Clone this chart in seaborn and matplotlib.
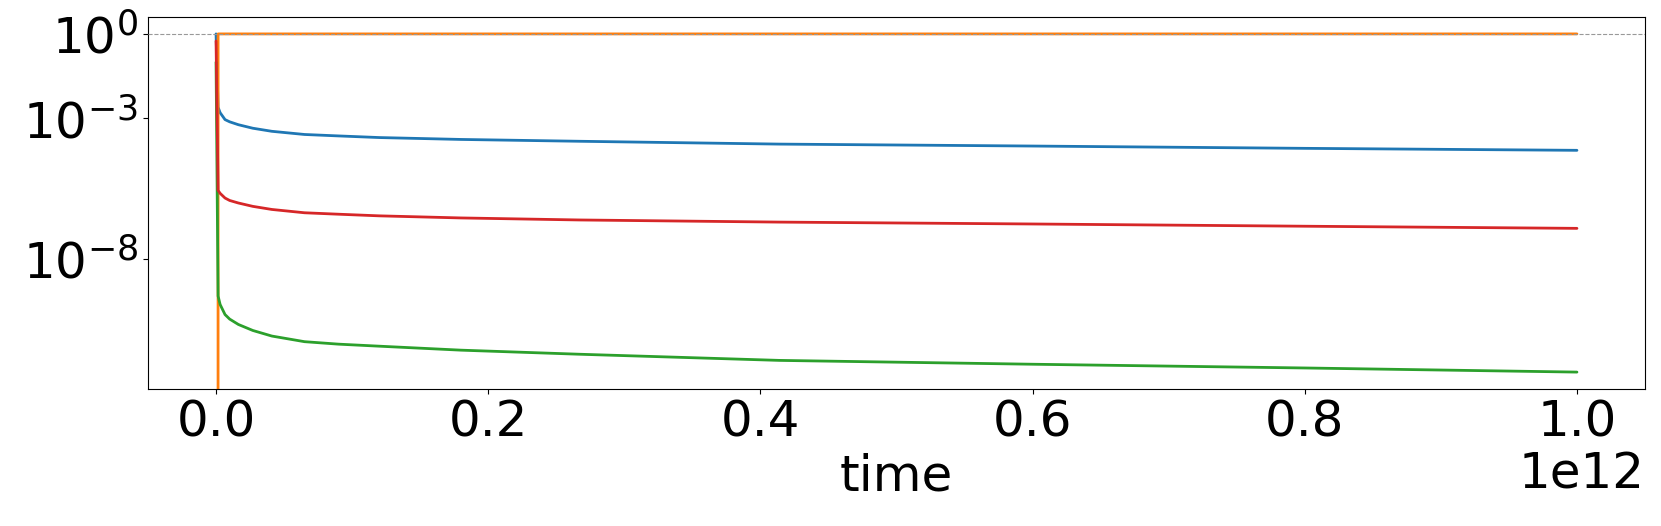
import matplotlib
matplotlib.use("Agg")
import matplotlib.pyplot as plt
import matplotlib.ticker as mticker
import numpy as np
import pandas as pd
import seaborn as sns

# time grid, in units of 1e12
time_e12 = [0.0, 0.0015, 0.003, 0.0066, 0.01, 0.0164, 0.027, 0.041, 0.065,
            0.09, 0.12, 0.18, 0.267, 0.414, 0.6, 0.8, 1.0]

# fractions of each species along the grid
frac_a = [1.0, 2.5e-3, 1.6e-3, 9.1e-4, 7.6e-4, 6.0e-4, 4.5e-4, 3.5e-4, 2.7e-4,
          2.4e-4, 2.1e-4, 1.8e-4, 1.55e-4, 1.23e-4, 1.05e-4, 8.7e-5, 7.4e-5]
frac_b = [0.0, 1.0, 1.0, 1.0, 1.0, 1.0, 1.0, 1.0, 1.0,
          1.0, 1.0, 1.0, 1.0, 1.0, 1.0, 1.0, 1.0]
frac_c = [0.1, 5.0e-10, 2.5e-10, 1.1e-10, 7.6e-11, 4.9e-11, 3.0e-11, 1.9e-11, 1.2e-11,
          9.8e-12, 8.3e-12, 6.0e-12, 4.3e-12, 2.6e-12, 1.9e-12, 1.4e-12, 1.0e-12]
frac_d = [0.56, 2.8e-6, 2.2e-6, 1.5e-6, 1.23e-6, 1.0e-6, 7.6e-7, 5.9e-7, 4.5e-7,
          4.0e-7, 3.5e-7, 2.95e-7, 2.5e-7, 2.1e-7, 1.8e-7, 1.5e-7, 1.26e-7]

species = ["A", "B", "C", "D"]
colors = ["#1f77b4", "#ff7f0e", "#2ca02c", "#d62728"]
y_ticks = [1.0, 1e-3, 1e-8]

sns.set_style("ticks", rc={
    "axes.edgecolor": "black",
    "xtick.color": "black",
    "ytick.color": "black",
    "text.color": "black",
    "axes.labelcolor": "black",
    "axes.linewidth": 1.0,
    "xtick.major.width": 0.8,
    "ytick.major.width": 0.8,
    "xtick.major.size": 5,
    "ytick.major.size": 5,
})
plt.rcParams["font.family"] = ["DejaVu Sans"]
plt.rcParams["font.size"] = 36
plt.rcParams["xtick.labelsize"] = 36
plt.rcParams["ytick.labelsize"] = 36
plt.rcParams["axes.labelsize"] = 36

t = np.array(time_e12) * 1e12
frames = []
for name, vals in zip(species, [frac_a, frac_b, frac_c, frac_d]):
    frames.append(pd.DataFrame({"time": t, "value": vals, "species": name}))
df = pd.concat(frames, ignore_index=True)

fig = plt.figure(figsize=(16.61, 5.26), dpi=100)
ax = fig.add_axes([148 / 1661, 1 - 389 / 526, (1645 - 148) / 1661, (389 - 17) / 526])

sns.lineplot(data=df, x="time", y="value", hue="species", hue_order=species,
             palette=colors, estimator=None, legend=False, linewidth=2.0, ax=ax)
ax.set_yscale("log")
ax.axhline(1.0, color="0.6", linestyle="--", linewidth=0.8, zorder=5)

ax.set_ylim(10 ** -12.6, 10 ** 0.6)
ax.set_xlim(-0.05e12, 1.05e12)
ax.set_yticks(y_ticks)
ax.yaxis.set_minor_locator(mticker.NullLocator())
ax.set_xlabel("time")
ax.set_ylabel("")

fig.savefig("out.png", dpi=100)
